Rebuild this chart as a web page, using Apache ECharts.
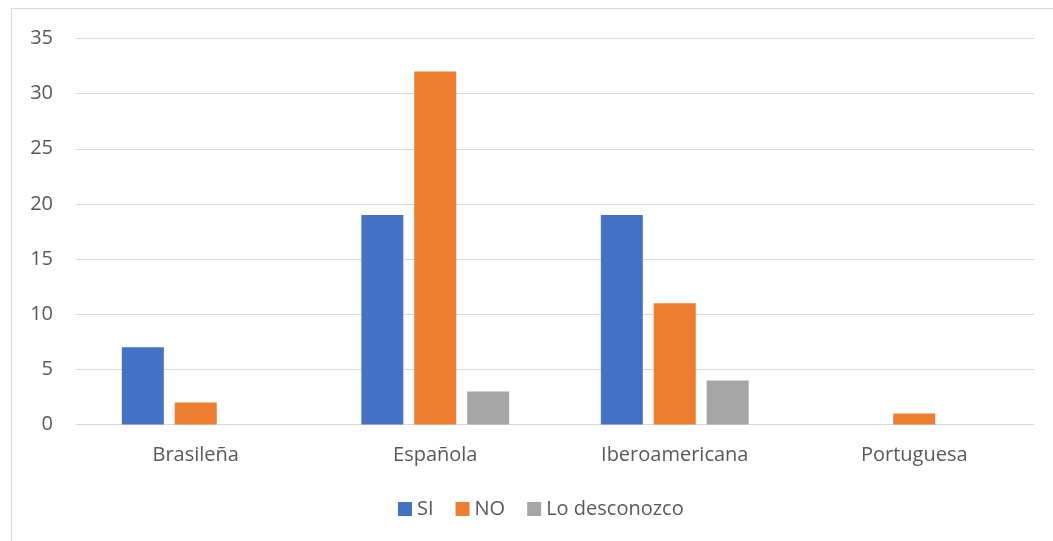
<!DOCTYPE html>
<html>
<head>
<meta charset="utf-8">
<script src="https://cdn.jsdelivr.net/npm/echarts@6/dist/echarts.min.js"></script>
<style>
  html, body { margin: 0; padding: 0; background: #fff; overflow: hidden; }
  .frame {
    position: absolute; left: 11px; top: 8px; width: 1060px; height: 560px;
    border: 1px solid #d9d9d9; box-sizing: border-box;
  }
  #chart { position: absolute; left: 0; top: 0; width: 1053px; height: 541px; }
</style>
</head>
<body>
<div class="frame"></div>
<div id="chart"></div>
<script>
// categorias y valores
var categories = ['Brasileña', 'Española', 'Iberoamericana', 'Portuguesa'];
var seriesNames = ['SI', 'NO', 'Lo desconozco'];
var siValues = [7, 19, 19, 0];
var noValues = [2, 32, 11, 1];
var desconozcoValues = [0, 3, 4, 0];
var yTicks = { min: 0, max: 35, interval: 5 };

var colors = ['#4472c4', '#ed7d31', '#a5a5a5'];
var fontFamily = '"Open Sans", "Noto Sans", sans-serif';

var chart = echarts.init(document.getElementById('chart'), null, { renderer: 'canvas' });

var option = {
  animation: false,
  color: colors,
  grid: { left: 76, right: 19, top: 38.5, bottom: 116.5, containLabel: false },
  legend: {
    data: seriesNames,
    bottom: 17,
    left: 393,
    icon: 'rect',
    itemWidth: 14,
    itemHeight: 14,
    itemGap: 22,
    textStyle: { color: '#595959', fontSize: 20, fontFamily: fontFamily }
  },
  xAxis: {
    type: 'category',
    data: categories,
    axisLine: { show: true, lineStyle: { color: '#d9d9d9', width: 1 } },
    axisTick: { show: false },
    axisLabel: { color: '#595959', fontSize: 20, fontFamily: fontFamily, margin: 21 }
  },
  yAxis: {
    type: 'value',
    min: yTicks.min,
    max: yTicks.max,
    interval: yTicks.interval,
    axisLine: { show: false },
    axisTick: { show: false },
    splitLine: { lineStyle: { color: '#d9d9d9', width: 1 } },
    axisLabel: { color: '#595959', fontSize: 20, fontFamily: fontFamily, margin: 23 }
  },
  series: [
    { name: seriesNames[0], type: 'bar', data: siValues, barWidth: 42, barGap: '26%' },
    { name: seriesNames[1], type: 'bar', data: noValues, barWidth: 42, barGap: '26%' },
    { name: seriesNames[2], type: 'bar', data: desconozcoValues, barWidth: 42, barGap: '26%' }
  ]
};

chart.setOption(option);
</script>
</body>
</html>
